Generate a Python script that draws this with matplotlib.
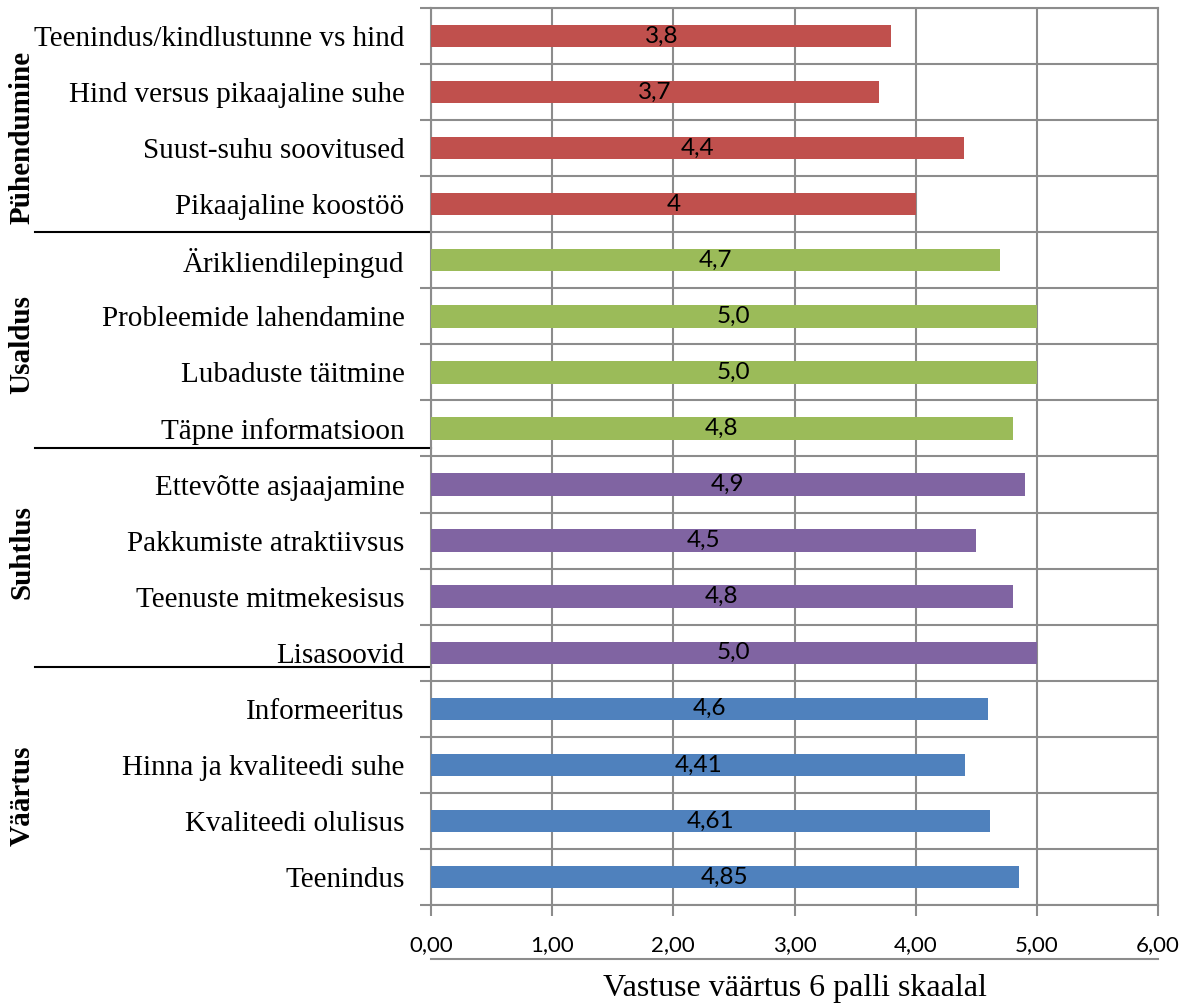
import matplotlib.pyplot as plt
from matplotlib.lines import Line2D
from matplotlib.ticker import FixedLocator, FuncFormatter

# categories listed top to bottom
categories = [
    "Teenindus/kindlustunne vs hind",
    "Hind versus pikaajaline suhe",
    "Suust-suhu soovitused",
    "Pikaajaline koostöö",
    "Ärikliendilepingud",
    "Probleemide lahendamine",
    "Lubaduste täitmine",
    "Täpne informatsioon",
    "Ettevõtte asjaajamine",
    "Pakkumiste atraktiivsus",
    "Teenuste mitmekesisus",
    "Lisasoovid",
    "Informeeritus",
    "Hinna ja kvaliteedi suhe",
    "Kvaliteedi olulisus",
    "Teenindus",
]
values = [3.8, 3.7, 4.4, 4.0, 4.7, 5.0, 5.0, 4.8, 4.9, 4.5, 4.8, 5.0,
          4.6, 4.41, 4.61, 4.85]
value_labels = ["3,8", "3,7", "4,4", "4", "4,7", "5,0", "5,0", "4,8",
                "4,9", "4,5", "4,8", "5,0", "4,6", "4,41", "4,61", "4,85"]
groups = ["Pühendumine", "Usaldus", "Suhtlus", "Väärtus"]
group_sizes = [4, 4, 4, 4]
group_colors = ["#C0504D", "#9BBB59", "#8064A2", "#4F81BD"]
x_ticks = [0, 1, 2, 3, 4, 5, 6]

serif = "Liberation Serif"
sans = ["Lato", "DejaVu Sans"]
grid_c = "#8c8c8c"

colors = []
for c, n in zip(group_colors, group_sizes):
    colors += [c] * n

fig = plt.figure(figsize=(11.99, 10.05), dpi=100)
ax = fig.add_axes([431 / 1199, 1 - 905 / 1005, 727 / 1199, 897 / 1005])

ypos = list(range(len(categories)))
ax.barh(ypos, values, height=0.4, color=colors, zorder=3)
for y, v, lab in zip(ypos, values, value_labels):
    ax.text(v / 2, y, lab, ha="center", va="center", fontsize=17.5,
            family=sans, color="black", zorder=4)

ax.set_xlim(0, 6)
ax.set_ylim(len(categories) - 0.5, -0.5)
ax.xaxis.set_major_locator(FixedLocator(x_ticks))
ax.xaxis.set_major_formatter(FuncFormatter(lambda v, _: f"{v:.2f}".replace(".", ",")))
ax.set_yticks([y + 0.5 for y in ypos[:-1]] + [-0.5, len(categories) - 0.5])
ax.set_yticklabels([])
ax.set_yticks(ypos, minor=True)
ax.set_yticklabels(categories, minor=True, family=serif, fontsize=21)
ax.tick_params(axis="y", which="minor", length=0, pad=19)
ax.tick_params(axis="y", which="major", length=8, color=grid_c, width=1.5)
ax.tick_params(axis="x", length=8, color=grid_c, width=1.5, pad=14,
               labelsize=16)
for lab in ax.get_xticklabels():
    lab.set_family(sans)

ax.grid(True, which="major", color=grid_c, linewidth=1.5, zorder=0)
for s in ax.spines.values():
    s.set_color(grid_c)
    s.set_linewidth(1.5)

# line under the tick labels and the axis title
ax.add_line(Line2D([0, 1], [-0.06, -0.06], transform=ax.transAxes,
                   color=grid_c, linewidth=1.5, clip_on=False))
ax.set_xlabel("Vastuse väärtus 6 palli skaalal", family=serif, fontsize=23,
              labelpad=13)

# group separators and group names
tr = ax.get_yaxis_transform()
for ysep in [3.5, 7.35, 11.25]:
    ax.add_line(Line2D([-0.545, 0], [ysep, ysep], transform=tr,
                       color="black", linewidth=1.5, clip_on=False))
for name, yc in zip(groups, [1.8, 5.5, 9.2, 13.55]):
    ax.text(-0.563, yc, name, transform=tr, rotation=90, ha="center",
            va="center", family=serif, fontsize=21, fontweight="bold")

fig.savefig("out.png", dpi=100)
